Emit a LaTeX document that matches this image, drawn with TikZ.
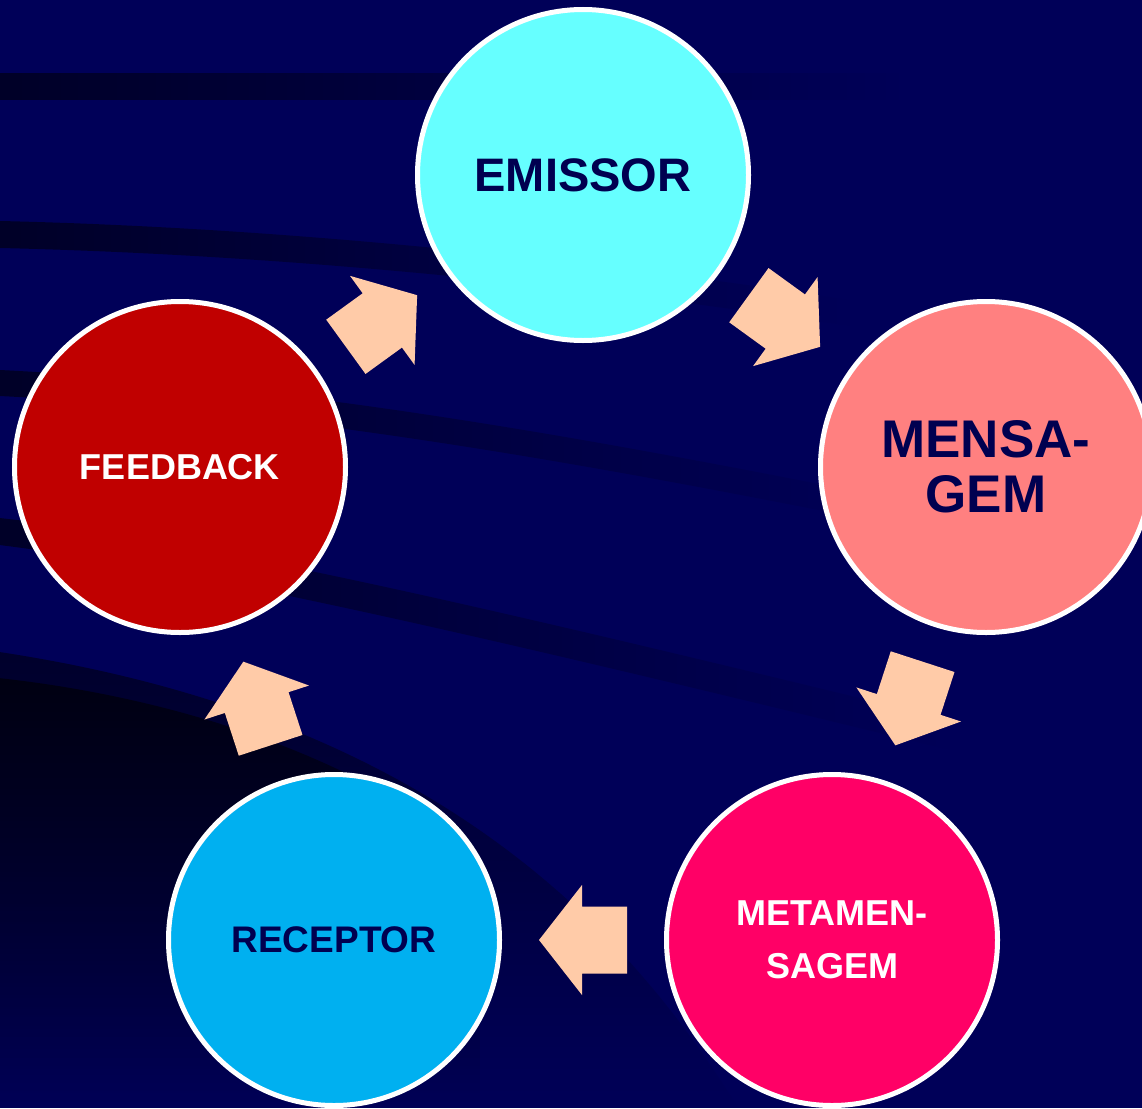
\documentclass[tikz,border=0pt]{standalone}
\usepackage{fontspec}
\setmainfont{Liberation Sans}
\usetikzlibrary{fadings,calc}
\definecolor{bgnavy}{RGB}{0,0,88}
\definecolor{txtnavy}{RGB}{0,0,80}
\definecolor{cEmissor}{HTML}{66FFFF}
\definecolor{cMensagem}{HTML}{FF8080}
\definecolor{cMeta}{HTML}{FF0066}
\definecolor{cReceptor}{HTML}{00B0F0}
\definecolor{cFeedback}{HTML}{C00000}
\definecolor{peach}{HTML}{FFCBA8}
\tikzfading[name=fadeEast, left color=transparent!0, right color=transparent!100]
\tikzfading[name=fadeSouth, top color=transparent!0, bottom color=transparent!100]
\newcommand\blockarrow[2]{%
  \path let \p1=(#1.center), \p2=(#2.center), \n1={atan2(\y2-\y1,\x2-\x1)} in
    ($(\p1)!0.5!(\p2)$) pic[rotate=\n1]{flecha};}
\begin{document}
\begin{tikzpicture}[x=1pt,y=-1pt,
  stage/.style={circle, draw=white, line width=5pt, minimum size=331pt,
    inner sep=0pt, align=center},
  streak/.style={fill=black, opacity=0.55, path fading=fadeEast},
  flecha/.pic={\fill[peach] (-44,-33.5) -- (1,-33.5) -- (1,-55) -- (44,0)
     -- (1,55) -- (1,33.5) -- (-44,33.5) -- cycle;}
]
\useasboundingbox (0,0) rectangle (1142,1108);
\clip (0,0) rectangle (1142,1108);
\fill[bgnavy] (0,0) rectangle (1142,1108);
% dark streaks of the background
\fill[streak] (0,73) -- (900,73) -- (900,100) -- (0,100) -- cycle;
\fill[streak] (0,221) .. controls (300,228) and (600,262) .. (850,300)
   -- (850,326) .. controls (600,288) and (300,255) .. (0,248) -- cycle;
\fill[streak] (0,370) .. controls (300,385) and (600,440) .. (900,500)
   -- (900,526) .. controls (600,466) and (300,411) .. (0,396) -- cycle;
\fill[streak] (0,518) .. controls (200,540) and (500,610) .. (950,720)
   -- (950,750) .. controls (500,640) and (200,570) .. (0,545) -- cycle;
\fill[black, opacity=0.5, path fading=fadeSouth]
   (0,652) .. controls (250,690) and (450,780) .. (600,930)
   .. controls (680,1010) and (720,1080) .. (740,1108) -- (0,1108) -- cycle;
\fill[black, opacity=0.6, path fading=fadeSouth]
   (0,678) .. controls (200,700) and (380,770) .. (480,860)
   -- (480,1108) -- (0,1108) -- cycle;
% stages
\node[stage, fill=cEmissor, text=txtnavy,
  font=\bfseries\fontsize{47}{56}\selectfont] (emissor) at (583,175) {EMISSOR};
\node[stage, fill=cMensagem, text=txtnavy,
  font=\bfseries\fontsize{53}{55}\selectfont] (mensagem) at (986,467) {MENSA-\\GEM};
\node[stage, fill=cMeta, text=white,
  font=\bfseries\fontsize{36}{53}\selectfont] (meta) at (832,940) {METAMEN-\\SAGEM};
\node[stage, fill=cReceptor, text=txtnavy,
  font=\bfseries\fontsize{37}{44}\selectfont] (receptor) at (334,940) {RECEPTOR};
\node[stage, fill=cFeedback, text=white,
  font=\bfseries\fontsize{36}{43}\selectfont] (feedback) at (180,467) {FEEDBACK};
% block arrows
\blockarrow{emissor}{mensagem}
\blockarrow{mensagem}{meta}
\blockarrow{meta}{receptor}
\blockarrow{receptor}{feedback}
\blockarrow{feedback}{emissor}
\end{tikzpicture}
\end{document}
